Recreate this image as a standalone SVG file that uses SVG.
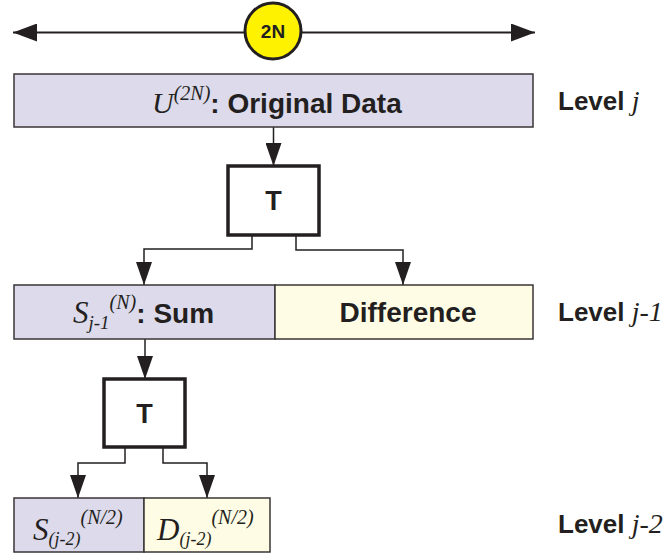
<svg xmlns="http://www.w3.org/2000/svg" width="670" height="556" viewBox="0 0 670 556">
<style>
.box{stroke:#3a3536;stroke-width:1.5}
.lav{fill:#dcdaeb}
.yel{fill:#fefce4}
.tbox{fill:#ffffff;stroke:#231f20;stroke-width:3.5}
.con{fill:none;stroke:#231f20;stroke-width:1.5}
.b{font-family:'Liberation Sans',Arial,sans-serif;font-weight:bold;fill:#231f20}
.mi{font-family:'Liberation Serif','Times New Roman',serif;font-style:italic;font-weight:normal;fill:#231f20}
</style>
<defs>
<marker id="big" viewBox="0 0 24 18" refX="24" refY="9" markerWidth="24" markerHeight="18" markerUnits="userSpaceOnUse" orient="auto-start-reverse">
<path d="M0,0 L24,9 L0,18 z" fill="#231f20"/>
</marker>
<marker id="arr" viewBox="0 0 23 16" refX="23" refY="8" markerWidth="23" markerHeight="16" markerUnits="userSpaceOnUse" orient="auto">
<path d="M0,0 L23,8 L0,16 z" fill="#231f20"/>
</marker>
</defs>
<g id="connectors">
<line x1="13" y1="32.5" x2="535" y2="32.5" stroke="#231f20" stroke-width="2" marker-start="url(#big)" marker-end="url(#big)"/>
<path class="con" d="M273.5 127 V166" marker-end="url(#arr)"/>
<path class="con" d="M252 235 V249 H144 V285" marker-end="url(#arr)"/>
<path class="con" d="M296 235 V250 H403 V285" marker-end="url(#arr)"/>
<path class="con" d="M145 339 V379" marker-end="url(#arr)"/>
<path class="con" d="M125 447 V463 H78 V498" marker-end="url(#arr)"/>
<path class="con" d="M163 447 V463 H207 V498" marker-end="url(#arr)"/>
</g>
<g id="size2N">
<ellipse cx="273" cy="31" rx="28" ry="28" fill="#fff200" stroke="#231f20" stroke-width="3"/>
<text class="b" x="273" y="38" font-size="19" text-anchor="middle">2N</text>
</g>
<g id="original">
<rect class="box lav" x="14" y="74" width="519" height="53"/>
<text x="152" y="113"><tspan class="mi" font-family="Liberation Serif" font-style="italic" font-size="30">U</tspan><tspan class="mi" font-family="Liberation Serif" font-style="italic" font-size="20" dy="-13">(2N)</tspan><tspan class="b" font-size="28" dy="13">: Original Data</tspan></text>
</g>
<g id="levelj">
<text x="558" y="110" font-size="26"><tspan class="b">Level </tspan><tspan class="mi" font-family="Liberation Serif" font-style="italic" font-size="28">j</tspan></text>
</g>
<g id="T1">
<rect class="tbox" x="228" y="166" width="91" height="69"/>
<text class="b" x="273.5" y="210" font-size="27" text-anchor="middle">T</text>
</g>
<g id="sum">
<rect class="box lav" x="14" y="285" width="261" height="54"/>
<text x="73" y="323"><tspan class="mi" font-family="Liberation Serif" font-style="italic" font-size="31">S</tspan><tspan class="mi" font-family="Liberation Serif" font-style="italic" font-size="19" dy="6">j-1</tspan><tspan class="mi" font-family="Liberation Serif" font-style="italic" font-size="20" dy="-20">(N)</tspan><tspan class="b" font-size="28" dy="14">: Sum</tspan></text>
</g>
<g id="difference">
<rect class="box yel" x="275" y="285" width="258" height="54"/>
<text class="b" x="408" y="322" font-size="28" text-anchor="middle">Difference</text>
</g>
<g id="levelj1">
<text x="558" y="321" font-size="26"><tspan class="b">Level </tspan><tspan class="mi" font-family="Liberation Serif" font-style="italic" font-size="28">j-1</tspan></text>
</g>
<g id="T2">
<rect class="tbox" x="104" y="379" width="81" height="68"/>
<text class="b" x="144.5" y="423" font-size="27" text-anchor="middle">T</text>
</g>
<g id="sumj2">
<rect class="box lav" x="14" y="498" width="130" height="54"/>
<text x="33" y="540" font-family="Liberation Serif" font-style="italic"><tspan class="mi" font-size="31">S</tspan><tspan class="mi" font-size="18" dy="5">(j-2)</tspan><tspan class="mi" font-size="20" dy="-21">(N/2)</tspan></text>
</g>
<g id="diffj2">
<rect class="box yel" x="144" y="498" width="126" height="54"/>
<text x="157" y="540" font-family="Liberation Serif" font-style="italic"><tspan class="mi" font-size="31">D</tspan><tspan class="mi" font-size="18" dy="5">(j-2)</tspan><tspan class="mi" font-size="20" dy="-21">(N/2)</tspan></text>
</g>
<g id="levelj2">
<text x="558" y="533" font-size="26"><tspan class="b">Level </tspan><tspan class="mi" font-family="Liberation Serif" font-style="italic" font-size="28">j-2</tspan></text>
</g>
</svg>
